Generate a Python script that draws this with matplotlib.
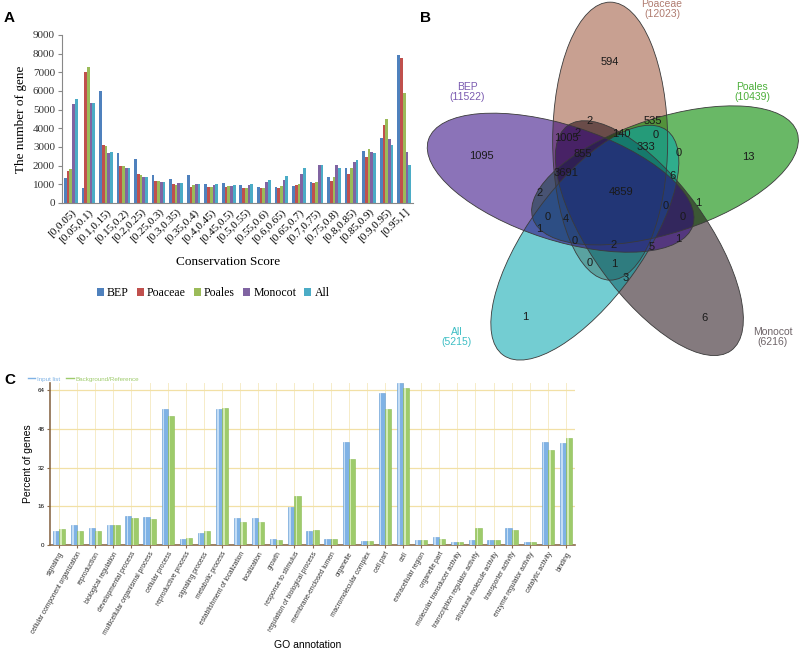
import numpy as np
import matplotlib
matplotlib.use("Agg")
import matplotlib.pyplot as plt
from matplotlib.patches import Ellipse

# ---------- panel A data ----------
bins = ["[0,0.05)", "[0.05,0.1)", "[0.1,0.15)", "[0.15,0.2)", "[0.2,0.25)",
        "[0.25,0.3)", "[0.3,0.35)", "[0.35,0.4)", "[0.4,0.45)", "[0.45,0.5)",
        "[0.5,0.55)", "[0.55,0.6)", "[0.6,0.65)", "[0.65,0.7)", "[0.7,0.75)",
        "[0.75,0.8)", "[0.8,0.85)", "[0.85,0.9)", "[0.9,0.95)", "[0.95,1]"]
groups = ["BEP", "Poaceae", "Poales", "Monocot", "All"]
bep = [1350, 800, 6000, 2700, 2350, 1500, 1300, 1500, 1000, 1050,
       950, 840, 875, 910, 1140, 1390, 1900, 2800, 3500, 7950]
poaceae = [1700, 7000, 3100, 2000, 1550, 1200, 1000, 880, 860, 860,
           820, 790, 820, 980, 1070, 1200, 1580, 2460, 4200, 7750]
poales = [1800, 7300, 3050, 2000, 1500, 1200, 950, 950, 860, 900,
          820, 820, 910, 1000, 1140, 1410, 1900, 2910, 4480, 5900]
monocot = [5300, 5350, 2700, 1900, 1400, 1150, 1050, 1000, 960, 900,
           960, 1100, 1250, 1550, 2030, 2020, 2180, 2710, 3450, 2750]
allset = [5550, 5350, 2750, 1900, 1400, 1150, 1050, 1020, 1000, 980,
          1020, 1210, 1450, 1875, 2050, 1900, 2290, 2660, 3120, 2050]

# ---------- panel B data ----------
venn_sets = ["Poaceae", "Poales", "Monocot", "All", "BEP"]
venn_totals = [12023, 10439, 6216, 5215, 11522]
venn_counts = [594, 2, 535, 1005, 2, 140, 0, 855, 333, 0, 1095, 13, 3691, 6,
               2, 4859, 0, 1, 0, 4, 0, 1, 0, 2, 5, 1, 0, 1, 3, 1, 6]

# ---------- panel C data ----------
go_terms = ["signaling", "cellular component organization", "reproduction",
            "biological regulation", "developmental process",
            "multicellular organismal process", "cellular process",
            "reproductive process", "signaling process", "metabolic process",
            "establishment of localization", "localization", "growth",
            "response to stimulus", "regulation of biological process",
            "membrane-enclosed lumen", "organelle", "macromolecular complex",
            "cell part", "cell", "extracellular region", "organelle part",
            "molecular transducer activity", "transcription regulator activity",
            "structural molecule activity", "transporter activity",
            "enzyme regulator activity", "catalytic activity", "binding"]
input_list = [5.8, 8.1, 7.0, 8.1, 12.1, 11.5, 56.1, 2.6, 5.1, 56.1,
              11.1, 11.1, 2.4, 15.7, 5.8, 2.4, 42.4, 1.7, 63.0, 67.0,
              2.1, 3.2, 1.1, 2.1, 2.1, 7.0, 1.1, 42.4, 42.2]
background = [6.6, 5.6, 5.6, 8.3, 11.1, 10.6, 53.3, 3.1, 5.6, 56.6,
              9.6, 9.6, 2.1, 20.2, 6.1, 2.4, 35.5, 1.7, 56.3, 65.0,
              2.1, 2.5, 1.25, 7.0, 2.1, 6.0, 1.1, 39.4, 44.4]

W, H = 800, 650
fig = plt.figure(figsize=(8, 6.5), dpi=100)


def px_axes(x0, y0, x1, y1):
    return fig.add_axes([x0 / W, 1 - y1 / H, (x1 - x0) / W, (y1 - y0) / H])


serif = "Liberation Serif"
sans = "Liberation Sans"

# ================= A =================
colorsA = ["#4F81BD", "#C0504D", "#9BBB59", "#8064A2", "#4BACC6"]
axA = px_axes(62, 35, 413, 203)
x = np.arange(len(bins))
bw = 0.155
for i, vals in enumerate([bep, poaceae, poales, monocot, allset]):
    axA.bar(x + (i - 2) * bw, vals, bw, color=colorsA[i], label=groups[i])
axA.set_xlim(-0.5, len(bins) - 0.5)
axA.set_ylim(0, 9000)
axA.set_yticks(np.arange(0, 9001, 1000))
axA.set_yticklabels([str(v) for v in range(0, 9001, 1000)], fontfamily=serif,
                    fontsize=8, color="#333333")
axA.set_xticks(x)
axA.set_xticklabels(bins, rotation=45, ha="right", rotation_mode="anchor",
                    fontfamily=serif, fontsize=8)
axA.tick_params(axis="x", length=0, pad=3)
axA.tick_params(axis="y", length=3, color="#888888", pad=2)
for s in ["top", "right"]:
    axA.spines[s].set_visible(False)
axA.spines["left"].set_color("#888888")
axA.spines["bottom"].set_color("#888888")
axA.set_ylabel("The number of gene", fontfamily=serif, fontsize=9.5, labelpad=4)
fig.text(228 / W, 1 - 262 / H, "Conservation Score", fontfamily=serif,
         fontsize=9.5, ha="center", va="center")
fig.legend(*axA.get_legend_handles_labels(), loc="center",
           bbox_to_anchor=(213 / W, 1 - 293 / H), ncol=5, frameon=False,
           prop={"family": serif, "size": 8.5}, handlelength=0.6,
           handleheight=0.6, handletextpad=0.25, columnspacing=0.7)
fig.text(4 / W, 1 - 18 / H, "A", fontsize=11, fontweight="bold",
         fontfamily=sans, va="center")

# ================= B =================
axB = px_axes(400, 0, 800, 380)
axB.set_xlim(400, 800)
axB.set_ylim(-380, 0)
axB.axis("off")
venn_face = ["#852C0B", "#058A00", "#140008", "#00A4AD", "#2D007F"]
venn_alpha = [0.45, 0.6, 0.52, 0.55, 0.55]
venn_text = ["#B07C70", "#4CAF3A", "#6E6468", "#3DBEC4", "#7A5AB0"]
# ellipses rotated in 72 degree steps around the diagram centre
ecx, ecy, off, a, b = 614, 196, 55, 139, 57.5
for k in range(5):
    phi = np.radians(94 - 72 * k)
    cx = ecx + off * np.cos(phi)
    cy = -(ecy - off * np.sin(phi))
    axB.add_patch(Ellipse((cx, cy), 2 * a, 2 * b, angle=90 - 72 * k,
                          facecolor=venn_face[k], alpha=venn_alpha[k],
                          edgecolor="none"))
for k in range(5):
    phi = np.radians(94 - 72 * k)
    cx = ecx + off * np.cos(phi)
    cy = -(ecy - off * np.sin(phi))
    axB.add_patch(Ellipse((cx, cy), 2 * a, 2 * b, angle=90 - 72 * k,
                          facecolor="none", edgecolor="#3a3a3a", lw=0.6))

count_pos = [(610, 62), (590, 121), (653, 121), (566, 138), (578, 133),
             (621, 134), (656, 135), (583, 154), (646, 147), (679, 153),
             (481, 156), (748, 157), (566, 173), (673, 176), (540, 193),
             (621, 192), (666, 206), (698, 203), (548, 217), (566, 219),
             (683, 217), (539, 229), (575, 241), (614, 245), (652, 247),
             (678, 239), (590, 263), (614, 264), (626, 278), (525, 317),
             (704, 318)]
for c, (px, py) in zip(venn_counts, count_pos):
    axB.text(px, -py, str(c), fontsize=8, fontfamily=sans, ha="center",
             va="center", color="#1a1a1a")

label_pos = [(662, 9), (752, 92), (773, 337), (457, 337), (467, 92)]
for k in range(5):
    px, py = label_pos[k]
    axB.text(px, -py, f"{venn_sets[k]}\n({venn_totals[k]})", fontsize=7.5,
             fontfamily=sans, ha="center", va="center", color=venn_text[k],
             linespacing=1.0)
fig.text(420 / W, 1 - 18 / H, "B", fontsize=11, fontweight="bold",
         fontfamily=sans, va="center")

# ================= C =================
axC = px_axes(50, 383, 575, 545)
xc = np.arange(len(go_terms))
cw = 0.34
blue, blue_hi = "#7FB2E5", "#C4DDF5"
green, green_hi = "#9ECB6B", "#D3EAB6"
axC.bar(xc - cw / 2, input_list, cw, color=blue, edgecolor="#6A9FD6",
        lw=0.4, label="Input list", zorder=3)
axC.bar(xc - cw / 2 - cw * 0.18, input_list, cw * 0.25, color=blue_hi,
        lw=0, zorder=4)
axC.bar(xc + cw / 2, background, cw, color=green, edgecolor="#8BBB55",
        lw=0.4, label="Background/Reference", zorder=3)
axC.bar(xc + cw / 2 - cw * 0.18, background, cw * 0.25, color=green_hi,
        lw=0, zorder=4)
axC.set_xlim(-0.5, len(go_terms) - 0.5)
axC.set_ylim(0, 67)
axC.set_yticks([0, 16, 32, 48, 64])
axC.set_yticklabels(["0", "16", "32", "48", "64"], fontsize=4.5,
                    fontfamily=sans)
axC.set_xticks(xc)
axC.set_xticklabels(go_terms, rotation=60, ha="right", rotation_mode="anchor",
                    fontsize=4.8, fontfamily=sans, color="#333333")
axC.tick_params(axis="x", length=2, color="#8B6B4B", pad=2)
axC.tick_params(axis="y", length=2, color="#8B6B4B", pad=2)
axC.grid(axis="x", color="#F6ECC8", lw=0.7, zorder=0)
axC.grid(axis="y", color="#F2E0A6", lw=0.9, zorder=0)
for s in ["top", "right"]:
    axC.spines[s].set_visible(False)
axC.spines["left"].set_color("#8B6B4B")
axC.spines["bottom"].set_color("#8B6B4B")
axC.spines["left"].set_linewidth(1.2)
axC.spines["bottom"].set_linewidth(1.2)
axC.set_ylabel("Percent of genes", fontsize=7.5, fontfamily=sans)
axC.yaxis.set_label_coords(-17 / 525, 0.5)
fig.text(308 / W, 1 - 645 / H, "GO annotation", fontsize=7.5, fontfamily=sans,
         ha="center", va="center")
hb = axC.plot([], [], color=blue, lw=1)[0]
hg = axC.plot([], [], color=green, lw=1)[0]
axC.legend([hb, hg], ["Input list", "Background/Reference"], loc="lower left",
           bbox_to_anchor=(-0.05, 0.985), ncol=2, frameon=False,
           prop={"family": sans, "size": 4.5}, handlelength=1.2,
           handletextpad=0.3, columnspacing=1.0, labelcolor=[blue, green],
           borderaxespad=0.2)
fig.text(4 / W, 1 - 380 / H, "C", fontsize=11, fontweight="bold",
         fontfamily=sans, va="center")

fig.savefig("out.png", dpi=100)
